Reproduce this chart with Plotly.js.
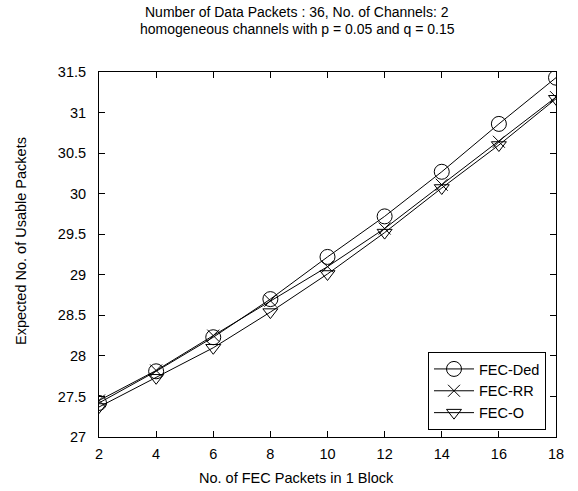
<!DOCTYPE html>
<html>
<head>
<meta charset="utf-8">
<script src="https://cdn.plot.ly/plotly-3.0.1.min.js"></script>
<style>html,body{margin:0;padding:0;background:#fff;}#chart{width:578px;height:491px;}</style>
</head>
<body>
<div id="chart"></div>
<script>
var fecPackets = [2, 4, 6, 8, 10, 12, 14, 16, 18];
var fecDed = [27.42, 27.81, 28.23, 28.70, 29.22, 29.72, 30.27, 30.86, 31.43];
var fecRR  = [27.45, 27.82, 28.25, 28.68, 29.10, 29.57, 30.11, 30.64, 31.19];
var fecO   = [27.37, 27.73, 28.10, 28.54, 29.01, 29.52, 30.07, 30.60, 31.17];
var seriesNames = ["FEC-Ded", "FEC-RR", "FEC-O"];
var xTicks = [2, 4, 6, 8, 10, 12, 14, 16, 18];
var yTicks = [27, 27.5, 28, 28.5, 29, 29.5, 30, 30.5, 31, 31.5];
var titleLines = ["Number of Data Packets : 36, No. of Channels: 2",
                  "homogeneous channels with p = 0.05 and q = 0.15"];
var xTitle = "No. of FEC Packets in 1 Block";
var yTitle = "Expected No. of Usable Packets";

var FONT = "Liberation Sans, Arial, sans-serif";
var FS = 14.5;
function tr(y, name, sym, size) {
  return {
    x: fecPackets, y: y, name: name, type: "scatter", mode: "lines+markers",
    line: {color: "#000", width: 1},
    marker: {symbol: sym, size: size, color: "#000", line: {color: "#000", width: 1}}
  };
}
var data = [
  tr(fecDed, seriesNames[0], "circle-open", 15),
  tr(fecRR, seriesNames[1], "x-thin-open", 12),
  tr(fecO, seriesNames[2], "triangle-down-open", 13)
];
var axisCommon = {
  showgrid: false, zeroline: false, showline: true, mirror: "ticks",
  linecolor: "#000", linewidth: 1, ticks: "inside", ticklen: 6, tickcolor: "#000",
  tickfont: {family: FONT, size: FS, color: "#000"}
};
var PL = 99, PT = 72, PW = 457, PH = 365;
function px2x(p) { return (p - PL) / PW; }
function py2y(p) { return (PT + PH - p) / PH; }
function ann(text, xp, yp, angle, fs) {
  return {text: text, xref: "paper", yref: "paper", x: px2x(xp), y: py2y(yp),
    xanchor: "center", yanchor: "middle", showarrow: false, textangle: angle || 0,
    font: {family: FONT, size: fs || FS, color: "#000"}};
}
var layout = {
  width: 578, height: 491,
  margin: {l: PL, r: 578 - PL - PW, t: PT, b: 491 - PT - PH},
  paper_bgcolor: "#fff", plot_bgcolor: "#fff",
  font: {family: FONT, color: "#000"},
  xaxis: Object.assign({}, axisCommon, {
    range: [2, 18], tickvals: xTicks, ticktext: xTicks.map(String), ticklabelstandoff: 4
  }),
  yaxis: Object.assign({}, axisCommon, {
    range: [27, 31.5], tickvals: yTicks, ticktext: yTicks.map(String), ticklabelstandoff: 9
  }),
  annotations: [
    ann(titleLines[0], 297, 12, 0, 14),
    ann(titleLines[1], 297, 29, 0, 14),
    ann(xTitle, 296, 478),
    ann(yTitle, 21, 241, -90)
  ],
  showlegend: true,
  legend: {
    x: px2x(546), y: py2y(430), xanchor: "right", yanchor: "bottom",
    bordercolor: "#000", borderwidth: 1, bgcolor: "#fff",
    font: {family: FONT, size: FS, color: "#000"},
    tracegroupgap: 0, itemwidth: 40
  }
};
Plotly.newPlot("chart", data, layout, {displayModeBar: false, staticPlot: true});
</script>
</body>
</html>
